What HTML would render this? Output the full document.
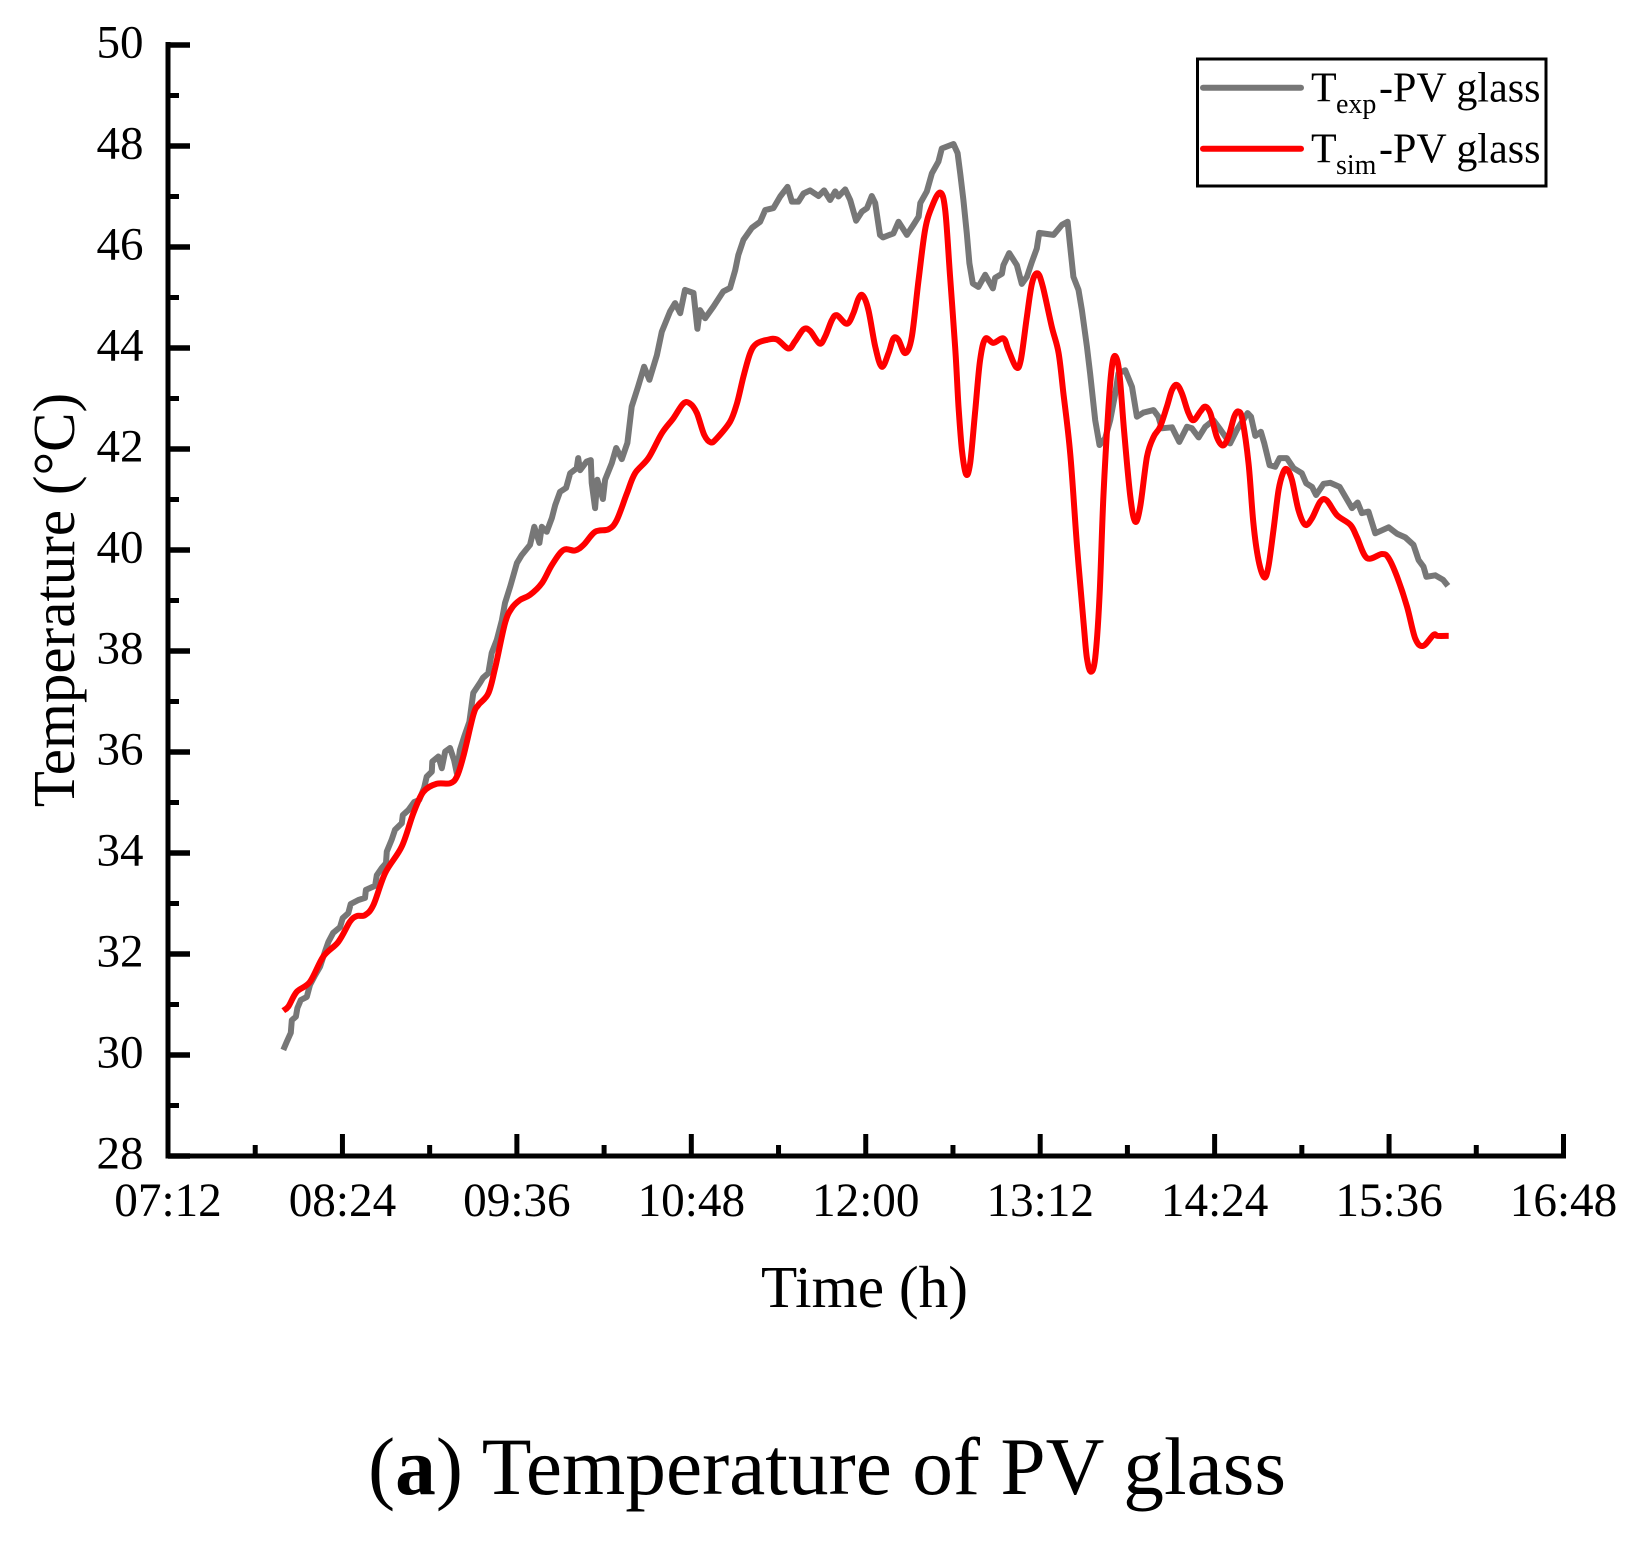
<!DOCTYPE html>
<html lang="en">
<head>
<meta charset="utf-8">
<title>Temperature of PV glass</title>
<style>
html,body{margin:0;padding:0;background:#fff;}
svg{display:block;font-family:"Liberation Serif","Times New Roman",serif;}
</style>
</head>
<body>
<svg id="chart" width="1644" height="1545" viewBox="0 0 1644 1545" xmlns="http://www.w3.org/2000/svg">
  <rect x="0" y="0" width="1644" height="1545" fill="#fff"/>
  <g id="axes"></g>
  <g id="series"></g>
  <text transform="translate(74 600) rotate(-90)" text-anchor="middle" font-size="59" fill="#000">Temperature (°C)</text>
  <text x="864.5" y="1307" text-anchor="middle" font-size="59.3" fill="#000">Time (h)</text>
  <g>
    <rect x="1197.5" y="59" width="348.5" height="127" fill="#fff" stroke="#000" stroke-width="3"/>
    <line x1="1203" y1="87.7" x2="1301" y2="87.7" stroke="#777" stroke-width="6" stroke-linecap="round"/>
    <text fill="#000" font-size="42"><tspan x="1311" y="101.7">T</tspan><tspan x="1336" y="113" font-size="28">exp</tspan><tspan x="1379" y="101.7">-PV glass</tspan></text>
    <line x1="1203" y1="148.7" x2="1301" y2="148.7" stroke="#f00" stroke-width="6" stroke-linecap="round"/>
    <text fill="#000" font-size="42"><tspan x="1311" y="162.7">T</tspan><tspan x="1336" y="174" font-size="28">sim</tspan><tspan x="1379" y="162.7">-PV glass</tspan></text>
  </g>
  <text x="368" y="1494" font-size="81.4" fill="#000">(<tspan font-weight="bold">a</tspan>) Temperature of PV glass</text>
</svg>
<script>
// Tick labels
const xTickLabels = ["07:12","08:24","09:36","10:48","12:00","13:12","14:24","15:36","16:48"];
const yTickLabels = [28,30,32,34,36,38,40,42,44,46,48,50];

// Experimental series: minutes after midnight, temperature in deg C
const expTimes = [479.6,481.0,482.7,483.1,484.8,485.4,486.8,489.3,490.6,492.7,494.8,496.8,498.2,500.2,503.0,504.1,506.4,507.4,510.6,513.3,513.7,517.5,518.2,520.2,522.0,522.3,524.3,525.7,528.5,528.9,531.2,533.6,535.7,537.7,538.8,540.9,541.1,543.6,545.0,546.4,548.4,550.1,551.2,552.5,554.2,556.4,558.0,560.8,562.0,564.2,565.6,567.7,569.8,571.1,573.2,576.0,578.0,581.4,583.2,585.3,586.3,588.3,590.4,591.8,593.8,596.3,598.0,600.7,601.3,602.1,604.8,606.5,606.9,608.3,609.2,611.5,612.4,615.2,617.0,619.3,621.6,623.4,626.0,628.5,630.7,633.8,635.8,639.2,641.3,643.4,645.4,648.9,650.5,651.6,653.7,657.1,661.2,664.0,666.1,667.4,669.5,673.0,676.4,678.5,681.9,684.7,687.7,689.5,692.2,694.3,697.0,700.5,702.8,705.3,707.4,708.7,711.5,713.6,716.0,718.4,720.5,722.5,723.9,725.9,727.1,731.4,733.5,737.0,739.7,741.8,742.5,745.2,747.3,750.0,751.4,756.2,757.9,759.0,760.3,761.7,762.8,764.2,766.5,769.3,772.5,773.4,776.2,776.8,779.2,782.4,784.4,786.5,788.6,790.6,791.6,797.5,801.0,803.3,804.4,805.7,807.8,809.2,811.3,812.6,814.7,816.5,818.8,820.9,823.0,824.3,827.1,829.9,831.9,834.6,838.8,840.8,842.2,846.4,849.4,852.6,854.6,857.4,860.1,863.5,866.3,870.4,873.2,877.6,879.0,880.8,883.1,884.5,886.7,889.0,890.8,893.8,896.6,900.0,901.8,904.2,905.9,909.0,911.7,915.6,920.7,923.0,924.8,927.5,930.3,935.8,939.3,942.7,946.1,948.2,950.2,951.4,955.1,958.3,960.3];
const expValues = [30.10,30.26,30.44,30.69,30.76,30.93,31.09,31.15,31.39,31.58,31.75,32.05,32.24,32.42,32.53,32.71,32.81,32.99,33.07,33.11,33.27,33.35,33.56,33.70,33.80,34.03,34.26,34.46,34.59,34.75,34.85,35.01,35.05,35.29,35.51,35.61,35.81,35.91,35.68,36.01,36.08,35.84,35.58,36.04,36.30,36.60,37.17,37.37,37.47,37.56,37.96,38.22,38.61,38.95,39.27,39.74,39.90,40.10,40.46,40.14,40.46,40.36,40.63,40.89,41.15,41.23,41.52,41.62,41.82,41.58,41.75,41.78,41.33,40.83,41.39,41.01,41.39,41.72,42.02,41.80,42.12,42.84,43.23,43.63,43.37,43.86,44.32,44.72,44.89,44.69,45.15,45.09,44.38,44.75,44.59,44.82,45.12,45.19,45.54,45.84,46.14,46.38,46.50,46.73,46.77,47.00,47.19,46.90,46.90,47.06,47.12,47.01,47.12,46.93,47.10,47.00,47.14,46.93,46.52,46.70,46.77,47.01,46.87,46.24,46.19,46.27,46.50,46.24,46.44,46.60,46.87,47.10,47.46,47.69,47.95,48.04,47.86,47.46,46.93,46.27,45.68,45.28,45.21,45.45,45.18,45.39,45.47,45.64,45.88,45.64,45.27,45.41,45.71,45.97,46.28,46.24,46.44,46.50,46.01,45.41,45.15,44.75,44.03,43.50,42.57,42.08,42.21,42.57,43.10,43.50,43.56,43.23,42.64,42.72,42.77,42.64,42.41,42.43,42.14,42.44,42.41,42.23,42.44,42.57,42.39,42.11,42.38,42.71,42.64,42.26,42.34,42.11,41.68,41.65,41.82,41.82,41.62,41.52,41.32,41.25,41.09,41.31,41.33,41.25,40.83,40.94,40.73,40.76,40.33,40.45,40.32,40.25,40.10,39.80,39.67,39.47,39.50,39.41,39.29];

// Simulated series: minutes after midnight, temperature in deg C
const simTimes = [479.6,481.7,485.1,490.6,496.1,502.3,507.1,509.9,513.3,516.8,521.6,528.5,533.3,537.4,542.9,548.4,551.2,553.9,558.0,560.1,564.2,567.0,571.1,573.9,577.3,581.4,586.3,590.4,595.2,600.0,603.5,608.3,613.8,617.2,621.4,624.8,630.3,635.8,640.6,644.7,647.5,650.3,653.3,656.0,658.5,664.0,666.8,669.5,672.3,675.0,679.2,683.3,688.1,690.8,694.3,697.0,700.9,703.2,706.0,708.1,712.2,714.9,717.0,718.8,721.1,723.9,726.6,729.4,731.4,733.5,736.3,739.0,741.8,744.5,747.3,750.7,752.8,754.8,756.9,758.3,759.7,761.4,763.1,765.2,767.2,769.3,772.7,776.8,778.9,782.1,784.0,786.5,788.6,790.9,793.1,796.8,799.6,801.6,804.4,807.1,809.9,811.3,812.9,814.7,816.5,818.1,820.2,821.6,823.0,824.7,826.7,829.2,831.2,833.3,836.1,838.8,841.5,844.3,846.4,848.4,850.5,853.2,855.3,858.1,860.1,862.2,864.9,867.4,869.7,872.1,873.9,875.5,878.0,880.0,882.1,884.5,886.2,888.3,890.4,892.2,893.8,895.9,898.6,901.4,904.2,907.6,910.3,914.5,920.0,922.7,926.9,933.1,935.8,939.3,943.4,946.8,950.0,954.4,956.0,960.6];
const simValues = [30.88,30.96,31.25,31.45,31.95,32.24,32.64,32.75,32.77,32.97,33.60,34.13,34.79,35.21,35.37,35.38,35.51,35.91,36.73,36.93,37.16,37.66,38.55,38.85,39.01,39.11,39.34,39.70,40.00,39.99,40.10,40.36,40.41,40.59,41.12,41.52,41.82,42.31,42.61,42.90,42.90,42.71,42.28,42.13,42.21,42.54,42.90,43.43,43.90,44.09,44.16,44.17,43.99,44.13,44.37,44.34,44.09,44.22,44.55,44.65,44.48,44.69,44.98,45.04,44.75,44.03,43.63,43.90,44.19,44.16,43.90,44.22,45.35,46.34,46.80,47.08,46.73,45.41,44.03,42.84,41.98,41.50,41.72,42.77,43.76,44.18,44.10,44.19,43.96,43.62,43.76,44.62,45.28,45.48,45.21,44.42,43.90,43.10,41.91,40.13,38.55,37.86,37.59,37.86,39.08,41.06,42.84,43.63,43.84,43.50,42.31,41.06,40.56,40.86,41.85,42.24,42.44,42.84,43.17,43.27,43.10,42.71,42.57,42.74,42.84,42.71,42.24,42.07,42.24,42.64,42.74,42.57,41.72,40.53,39.80,39.46,39.67,40.40,41.19,41.52,41.60,41.39,40.79,40.50,40.63,40.96,40.98,40.69,40.50,40.26,39.84,39.92,39.84,39.47,38.88,38.25,38.10,38.32,38.30,38.30];

const SVG_NS = "http://www.w3.org/2000/svg";
const xMin = 432, xMax = 1008, yMin = 28, yMax = 50;
const plotLeft = 168, plotRight = 1563.5, plotTop = 45, plotBottom = 1156;

function xScale(t) { return plotLeft + (t - xMin) / (xMax - xMin) * (plotRight - plotLeft); }
function yScale(v) { return plotBottom - (v - yMin) / (yMax - yMin) * (plotBottom - plotTop); }

function make(tag, attrs, parent) {
  const el = document.createElementNS(SVG_NS, tag);
  for (const k in attrs) el.setAttribute(k, attrs[k]);
  parent.appendChild(el);
  return el;
}

const axes = document.getElementById("axes");
const series = document.getElementById("series");

const xSpine = make("line", {x1: plotLeft - 2.5, y1: plotBottom, x2: plotRight + 2.5, y2: plotBottom, stroke: "#000", "stroke-width": 5}, axes);


const ySpine = make("line", {x1: plotLeft, y1: plotBottom + 2.5, x2: plotLeft, y2: plotTop - 3, stroke: "#000", "stroke-width": 5}, axes);



const xStep = (xMax - xMin) / (xTickLabels.length - 1);
xTickLabels.forEach(function (label, i) {
  const t = xMin + i * xStep;
  const px = xScale(t);
  const tick = make("line", {x1: px, y1: plotBottom, x2: px, y2: plotBottom - 22, stroke: "#000", "stroke-width": 5}, axes);
  
  
  const txt = make("text", {x: px, y: 1216, "text-anchor": "middle", "font-size": 47.2, fill: "#000"}, axes);
  
  
  txt.textContent = label;
  if (i < xTickLabels.length - 1) {
    const mx = xScale(t + xStep / 2);
    const minor = make("line", {x1: mx, y1: plotBottom, x2: mx, y2: plotBottom - 11, stroke: "#000", "stroke-width": 5}, axes);
    
    
  }
});

yTickLabels.forEach(function (label, i) {
  const py = yScale(label);
  const tick = make("line", {x1: plotLeft, y1: py, x2: 190, y2: py, stroke: "#000", "stroke-width": 5.5}, axes);
  
  
  const txt = make("text", {x: 143.5, y: py + 12.5, "text-anchor": "end", "font-size": 47, fill: "#000"}, axes);
  
  
  txt.textContent = label;
  if (i < yTickLabels.length - 1) {
    const my = yScale((label + yTickLabels[i + 1]) / 2);
    const minor = make("line", {x1: plotLeft, y1: my, x2: 179, y2: my, stroke: "#000", "stroke-width": 5}, axes);
    
    
  }
});

// Experimental line: straight segments keep the sensor noise
const expPts = expTimes.map(function (t, i) { return xScale(t).toFixed(1) + "," + yScale(expValues[i]).toFixed(1); }).join(" ");
const expLine = make("polyline", {points: expPts, fill: "none", stroke: "#777", "stroke-width": 6, "stroke-linejoin": "round", "stroke-linecap": "butt"}, series);



// Simulated line: Catmull-Rom smoothing through the read values
const sx = simTimes.map(xScale);
const sy = simValues.map(yScale);
let d = "M" + sx[0].toFixed(1) + " " + sy[0].toFixed(1);
for (let i = 0; i < sx.length - 1; i++) {
  const p0 = Math.max(0, i - 1), p3 = Math.min(sx.length - 1, i + 2);
  const c1x = sx[i] + (sx[i + 1] - sx[p0]) / 6;
  const c1y = sy[i] + (sy[i + 1] - sy[p0]) / 6;
  const c2x = sx[i + 1] - (sx[p3] - sx[i]) / 6;
  const c2y = sy[i + 1] - (sy[p3] - sy[i]) / 6;
  d += "C" + c1x.toFixed(1) + " " + c1y.toFixed(1) + " " + c2x.toFixed(1) + " " + c2y.toFixed(1) + " " + sx[i + 1].toFixed(1) + " " + sy[i + 1].toFixed(1);
}
const simLine = make("path", {d: d, fill: "none", stroke: "#f00", "stroke-width": 6, "stroke-linejoin": "round"}, series);


</script>
</body>
</html>
